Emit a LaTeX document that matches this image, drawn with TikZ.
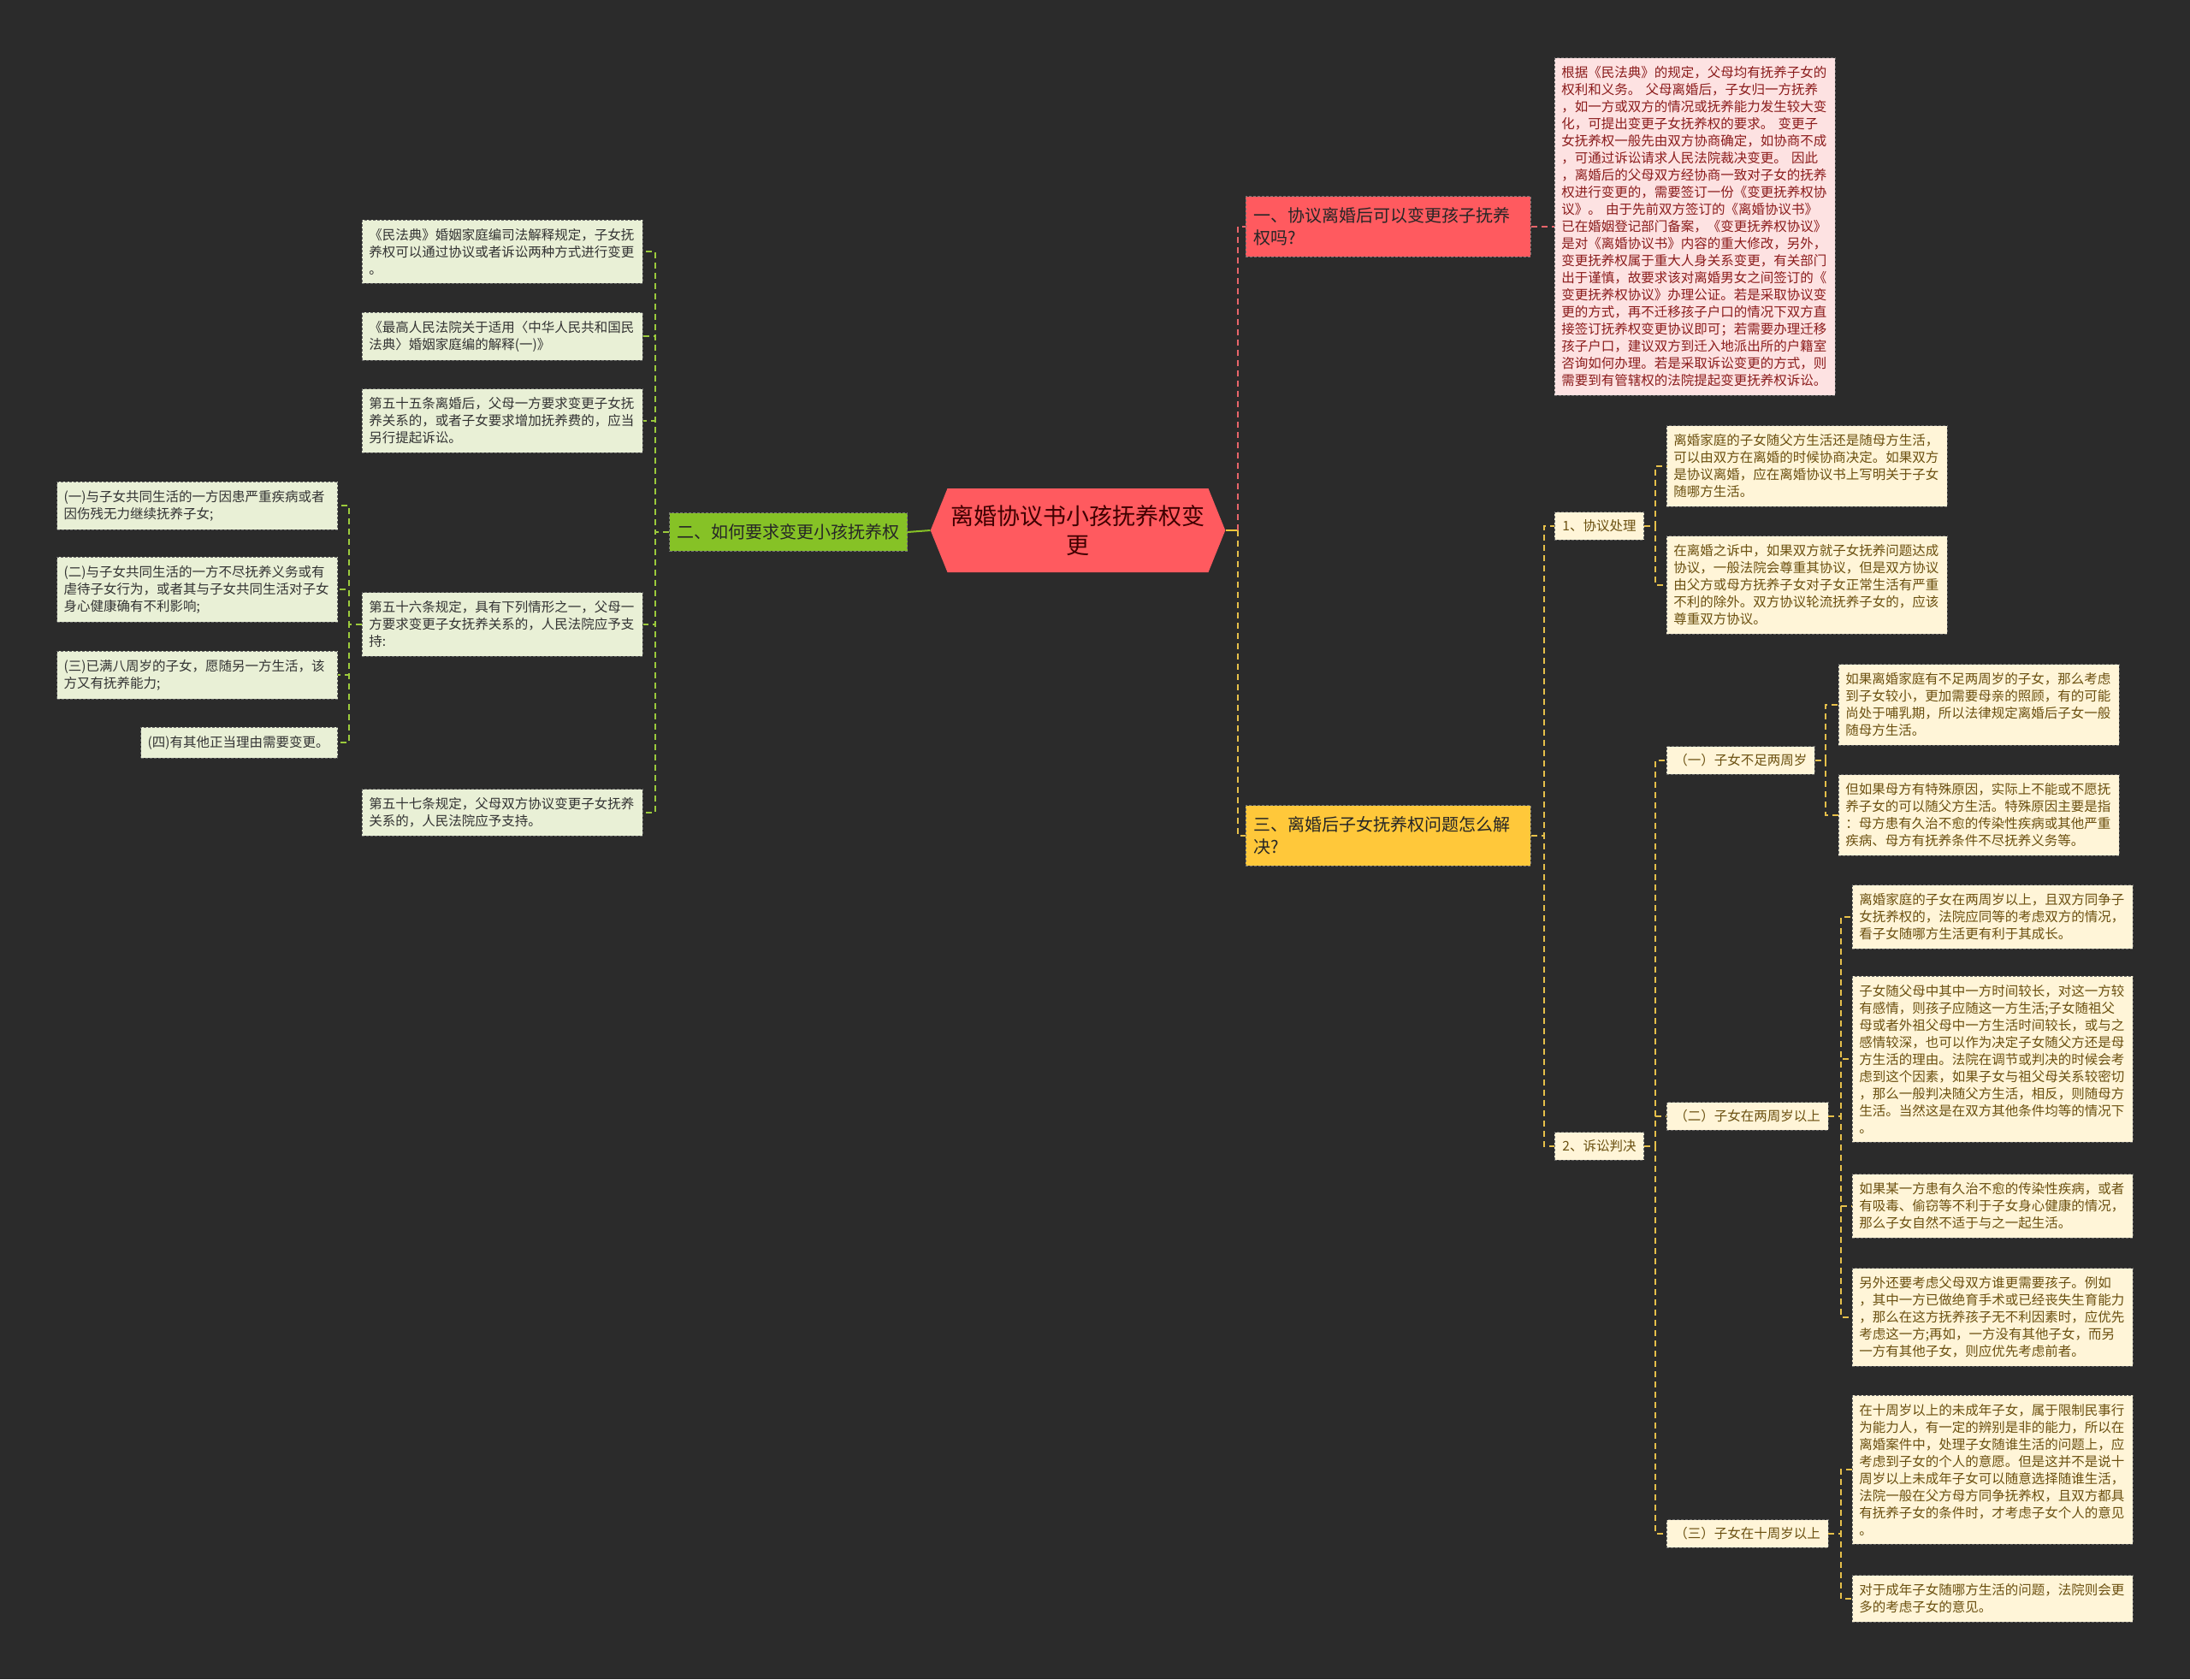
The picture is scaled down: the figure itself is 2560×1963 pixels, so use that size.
\documentclass[tikz,border=0pt]{standalone}
\usepackage{fontspec}
\usepackage{xcolor}
\usepackage{tikz}
\usetikzlibrary{arrows.meta,positioning,shapes.symbols,calc}
\newfontfamily\cjk{Noto Sans CJK SC}

\definecolor{bgdark}{HTML}{2B2B2B}
\definecolor{rootred}{HTML}{FF5A5F}
\definecolor{topicgreen}{HTML}{86C226}
\definecolor{topicyellow}{HTML}{FFC83A}
\definecolor{leafgreen}{HTML}{E9F0D6}
\definecolor{leafyellow}{HTML}{FFF5D8}
\definecolor{leafpink}{HTML}{FDE2E2}
\definecolor{txtbrown}{HTML}{6B5010}
\definecolor{txtred}{HTML}{8B1C1C}
\definecolor{lnkredc}{HTML}{E8656A}
\definecolor{lnkgreenc}{HTML}{9CCB3C}
\definecolor{lnkyellowc}{HTML}{E6C04A}

\begin{document}
\begin{tikzpicture}[
    x=1pt, y=-1pt,
    root/.style={shape=signal, signal to=east and west, signal pointer angle=136, fill=rootred, minimum width=338pt, minimum height=98pt, inner xsep=4pt, align=center, text=black!75!red, font={\cjk\fontsize{27}{34}\selectfont}},
    topic/.style={draw=black!55, dashed, dash pattern=on 3pt off 2pt, line width=0.8pt, inner xsep=9pt, inner ysep=13pt, align=left, text=black!85, font={\cjk\fontsize{20}{26}\selectfont}},
    leaf/.style={draw=black!60, dashed, dash pattern=on 3pt off 2pt, line width=0.8pt, inner xsep=8pt, inner ysep=10pt, text width=312pt, align=left, font={\cjk\fontsize{15.5}{20}\selectfont}},
    leafg/.style={leaf, fill=leafgreen, text=black!80},
    leafy/.style={leaf, fill=leafyellow, text=txtbrown},
    leafp/.style={leaf, fill=leafpink, text=txtred},
    sub/.style={draw=black!60, dashed, dash pattern=on 3pt off 2pt, line width=0.8pt, fill=leafyellow, text=txtbrown, inner xsep=9pt, inner ysep=9pt, font={\cjk\fontsize{15.5}{20}\selectfont}},
    lnkr/.style={draw=lnkredc, dashed, dash pattern=on 7pt off 5pt, line width=2pt},
    lnkg/.style={draw=lnkgreenc, dashed, dash pattern=on 7pt off 5pt, line width=2pt},
    lnky/.style={draw=lnkyellowc, dashed, dash pattern=on 7pt off 5pt, line width=2pt}
]
    % Background
    \fill[bgdark] (0,0) rectangle (2560,1963);
    \useasboundingbox (0,0) rectangle (2560,1963);

    % Root
    \node[root] (root) at (1260,620) {离婚协议书小孩抚养权变\\更};

    % Main topics
    \node[topic, fill=rootred, anchor=west, text width=315pt] (t1) at (1456,265) {一、协议离婚后可以变更孩子抚养\\权吗?};
    \node[topic, fill=topicgreen, anchor=east] (t2) at (1061,622) {二、如何要求变更小孩抚养权};
    \node[topic, fill=topicyellow, anchor=west, text width=315pt] (t3) at (1456,977) {三、离婚后子女抚养权问题怎么解\\决?};

    \coordinate (rj) at ($(root.east)+(14,0)$);
    \draw[topicgreen, line width=2pt] (root.west) -- (t2.east);
    \draw[topicyellow, line width=2pt] (root.east) -- (rj);
    \draw[lnkr] (rj) |- (t1.west);
    \draw[lnky] (rj) |- (t3.west);

    % Topic 1
    \node[leafp, anchor=west] (n1) at (1817,265) {根据《民法典》的规定，父母均有抚养子女的\\权利和义务。 父母离婚后，子女归一方抚养\\，如一方或双方的情况或抚养能力发生较大变\\化，可提出变更子女抚养权的要求。 变更子\\女抚养权一般先由双方协商确定，如协商不成\\，可通过诉讼请求人民法院裁决变更。 因此\\，离婚后的父母双方经协商一致对子女的抚养\\权进行变更的，需要签订一份《变更抚养权协\\议》。 由于先前双方签订的《离婚协议书》\\已在婚姻登记部门备案，《变更抚养权协议》\\是对《离婚协议书》内容的重大修改，另外，\\变更抚养权属于重大人身关系变更，有关部门\\出于谨慎，故要求该对离婚男女之间签订的《\\变更抚养权协议》办理公证。若是采取协议变\\更的方式，再不迁移孩子户口的情况下双方直\\接签订抚养权变更协议即可；若需要办理迁移\\孩子户口，建议双方到迁入地派出所的户籍室\\咨询如何办理。若是采取诉讼变更的方式，则\\需要到有管辖权的法院提起变更抚养权诉讼。};
    \draw[lnkr] (t1.east) -- (n1.west);

    % Topic 2
    \node[leafg, anchor=west] (a1) at (423,294) {《民法典》婚姻家庭编司法解释规定，子女抚\\养权可以通过协议或者诉讼两种方式进行变更\\。};
    \node[leafg, anchor=west] (a2) at (423,393) {《最高人民法院关于适用〈中华人民共和国民\\法典〉婚姻家庭编的解释(一)》};
    \node[leafg, anchor=west] (a3) at (423,492) {第五十五条离婚后，父母一方要求变更子女抚\\养关系的，或者子女要求增加抚养费的，应当\\另行提起诉讼。};
    \node[leafg, anchor=west] (a4) at (423,730) {第五十六条规定，具有下列情形之一，父母一\\方要求变更子女抚养关系的，人民法院应予支\\持:};
    \node[leafg, anchor=west] (a5) at (423,950) {第五十七条规定，父母双方协议变更子女抚养\\关系的，人民法院应予支持。};
    \draw[lnkg] (t2.west) -- ++(-16,0) |- (a1.east);
    \draw[lnkg] (t2.west) -- ++(-16,0) |- (a2.east);
    \draw[lnkg] (t2.west) -- ++(-16,0) |- (a3.east);
    \draw[lnkg] (t2.west) -- ++(-16,0) |- (a4.east);
    \draw[lnkg] (t2.west) -- ++(-16,0) |- (a5.east);

    \node[leafg, anchor=east] (c1) at (395,591) {(一)与子女共同生活的一方因患严重疾病或者\\因伤残无力继续抚养子女;};
    \node[leafg, anchor=east] (c2) at (395,689) {(二)与子女共同生活的一方不尽抚养义务或有\\虐待子女行为，或者其与子女共同生活对子女\\身心健康确有不利影响;};
    \node[leafg, anchor=east] (c3) at (395,789) {(三)已满八周岁的子女，愿随另一方生活，该\\方又有抚养能力;};
    \node[leafg, anchor=east, text width=214pt] (c4) at (395,868) {(四)有其他正当理由需要变更。};
    \draw[lnkg] (a4.west) -- ++(-15,0) |- (c1.east);
    \draw[lnkg] (a4.west) -- ++(-15,0) |- (c2.east);
    \draw[lnkg] (a4.west) -- ++(-15,0) |- (c3.east);
    \draw[lnkg] (a4.west) -- ++(-15,0) |- (c4.east);

    % Topic 3
    \node[sub, anchor=west] (s1) at (1817,615) {1、协议处理};
    \node[sub, anchor=west] (s2) at (1817,1340) {2、诉讼判决};
    \draw[lnky] (t3.east) -- ++(15,0) |- (s1.west);
    \draw[lnky] (t3.east) -- ++(15,0) |- (s2.west);

    \node[leafy, anchor=west] (p1) at (1948,545) {离婚家庭的子女随父方生活还是随母方生活，\\可以由双方在离婚的时候协商决定。如果双方\\是协议离婚，应在离婚协议书上写明关于子女\\随哪方生活。};
    \node[leafy, anchor=west] (p2) at (1948,684) {在离婚之诉中，如果双方就子女抚养问题达成\\协议，一般法院会尊重其协议，但是双方协议\\由父方或母方抚养子女对子女正常生活有严重\\不利的除外。双方协议轮流抚养子女的，应该\\尊重双方协议。};
    \draw[lnky] (s1.east) -- ++(13,0) |- (p1.west);
    \draw[lnky] (s1.east) -- ++(13,0) |- (p2.west);

    \node[sub, anchor=west] (k1) at (1948,889) {（一）子女不足两周岁};
    \node[sub, anchor=west] (k2) at (1948,1305) {（二）子女在两周岁以上};
    \node[sub, anchor=west] (k3) at (1948,1793) {（三）子女在十周岁以上};
    \draw[lnky] (s2.east) -- ++(13,0) |- (k1.west);
    \draw[lnky] (s2.east) -- ++(13,0) |- (k2.west);
    \draw[lnky] (s2.east) -- ++(13,0) |- (k3.west);

    \node[leafy, anchor=west] (q1) at (2149,824) {如果离婚家庭有不足两周岁的子女，那么考虑\\到子女较小，更加需要母亲的照顾，有的可能\\尚处于哺乳期，所以法律规定离婚后子女一般\\随母方生活。};
    \node[leafy, anchor=west] (q2) at (2149,953) {但如果母方有特殊原因，实际上不能或不愿抚\\养子女的可以随父方生活。特殊原因主要是指\\：母方患有久治不愈的传染性疾病或其他严重\\疾病、母方有抚养条件不尽抚养义务等。};
    \draw[lnky] (k1.east) -- ++(12,0) |- (q1.west);
    \draw[lnky] (k1.east) -- ++(12,0) |- (q2.west);

    \node[leafy, anchor=west] (r1) at (2165,1072) {离婚家庭的子女在两周岁以上，且双方同争子\\女抚养权的，法院应同等的考虑双方的情况，\\看子女随哪方生活更有利于其成长。};
    \node[leafy, anchor=west] (r2) at (2165,1238) {子女随父母中其中一方时间较长，对这一方较\\有感情，则孩子应随这一方生活;子女随祖父\\母或者外祖父母中一方生活时间较长，或与之\\感情较深，也可以作为决定子女随父方还是母\\方生活的理由。法院在调节或判决的时候会考\\虑到这个因素，如果子女与祖父母关系较密切\\，那么一般判决随父方生活，相反，则随母方\\生活。当然这是在双方其他条件均等的情况下\\。};
    \node[leafy, anchor=west] (r3) at (2165,1410) {如果某一方患有久治不愈的传染性疾病，或者\\有吸毒、偷窃等不利于子女身心健康的情况，\\那么子女自然不适于与之一起生活。};
    \node[leafy, anchor=west] (r4) at (2165,1540) {另外还要考虑父母双方谁更需要孩子。例如\\，其中一方已做绝育手术或已经丧失生育能力\\，那么在这方抚养孩子无不利因素时，应优先\\考虑这一方;再如，一方没有其他子女，而另\\一方有其他子女，则应优先考虑前者。};
    \draw[lnky] (k2.east) -- ++(15,0) |- (r1.west);
    \draw[lnky] (k2.east) -- ++(15,0) |- (r2.west);
    \draw[lnky] (k2.east) -- ++(15,0) |- (r3.west);
    \draw[lnky] (k2.east) -- ++(15,0) |- (r4.west);

    \node[leafy, anchor=west] (u1) at (2165,1718) {在十周岁以上的未成年子女，属于限制民事行\\为能力人，有一定的辨别是非的能力，所以在\\离婚案件中，处理子女随谁生活的问题上，应\\考虑到子女的个人的意愿。但是这并不是说十\\周岁以上未成年子女可以随意选择随谁生活，\\法院一般在父方母方同争抚养权，且双方都具\\有抚养子女的条件时，才考虑子女个人的意见\\。};
    \node[leafy, anchor=west] (u2) at (2165,1869) {对于成年子女随哪方生活的问题，法院则会更\\多的考虑子女的意见。};
    \draw[lnky] (k3.east) -- ++(15,0) |- (u1.west);
    \draw[lnky] (k3.east) -- ++(15,0) |- (u2.west);

\end{tikzpicture}
\end{document}
